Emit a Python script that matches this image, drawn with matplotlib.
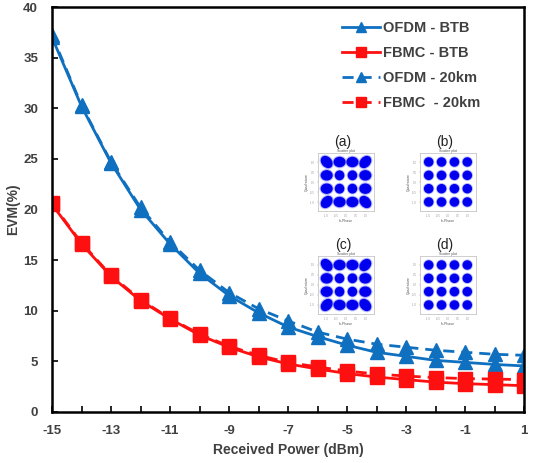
import matplotlib
matplotlib.use("Agg")
import matplotlib.pyplot as plt
from matplotlib.patches import Ellipse
import numpy as np

power = [-15, -14, -13, -12, -11, -10, -9, -8, -7, -6, -5, -4, -3, -2, -1, 0, 1]
ofdm_btb = [37.0, 30.2, 24.6, 20.0, 16.6, 13.7, 11.5, 9.8, 8.4, 7.45, 6.6, 5.9, 5.5, 5.1, 4.9, 4.7, 4.55]
fbmc_btb = [20.5, 16.6, 13.4, 11.0, 9.2, 7.6, 6.4, 5.45, 4.75, 4.25, 3.8, 3.45, 3.2, 2.95, 2.8, 2.7, 2.6]
ofdm_20km = [37.2, 30.3, 24.7, 20.2, 16.8, 14.0, 11.8, 10.2, 9.0, 7.9, 7.2, 6.7, 6.4, 6.1, 5.9, 5.7, 5.6]
fbmc_20km = [20.6, 16.7, 13.5, 11.1, 9.25, 7.7, 6.5, 5.6, 4.9, 4.45, 4.05, 3.75, 3.55, 3.4, 3.3, 3.25, 3.2]

x_ticks = [-15, -13, -11, -9, -7, -5, -3, -1, 1]
y_ticks = [0, 5, 10, 15, 20, 25, 30, 35, 40]
qam_levels = [-1.0, -1/3, 1/3, 1.0]
inset_labels = ["(a)", "(b)", "(c)", "(d)"]

blue = "#1070C0"
red = "#FF1010"
txt = "#404040"

plt.rcParams['font.family'] = ['Liberation Sans', 'DejaVu Sans']
plt.rcParams['axes.unicode_minus'] = False

fig = plt.figure(figsize=(5.36, 4.63), dpi=100)
ax = fig.add_axes([52/536, 1 - 412/463, (524-52)/536, (412-7)/463])

ax.plot(power, ofdm_btb, color=blue, lw=2, marker='^', ms=10, label='OFDM - BTB')
ax.plot(power, fbmc_btb, color=red, lw=2, marker='s', ms=9.5, label='FBMC - BTB')
ax.plot(power, ofdm_20km, color=blue, lw=2, ls=(0, (4, 2.5)), marker='^', ms=10, label='OFDM - 20km')
ax.plot(power, fbmc_20km, color=red, lw=2, ls=(0, (4, 2.5)), marker='s', ms=9.5, label='FBMC  - 20km')

ax.set_xlim(-15, 1)
ax.set_ylim(0, 40)
ax.set_xticks(x_ticks)
ax.set_xticks(range(-15, 2), minor=True)
ax.set_yticks(y_ticks)
ax.tick_params(axis='both', which='both', direction='in', length=4, width=1.2, colors='black',
               labelcolor=txt, labelsize=9.5)
ax.tick_params(axis='x', which='both', pad=9)
ax.tick_params(axis='y', which='both', pad=10)
for lab in ax.get_xticklabels() + ax.get_yticklabels():
    lab.set_fontweight('bold')
for s in ax.spines.values():
    s.set_linewidth(1.8)
    s.set_color('black')

ax.set_xlabel('Received Power (dBm)', fontsize=10, fontweight='bold', color=txt, labelpad=5)
ax.set_ylabel('EVM(%)', fontsize=10, fontweight='bold', color=txt, labelpad=2)

leg = ax.legend(loc='upper right', bbox_to_anchor=(0.935, 0.998), frameon=False,
                prop={'weight': 'bold', 'size': 10.5}, handlelength=2.6, labelspacing=0.75,
                handletextpad=0.2, markerscale=0.75)
for t in leg.get_texts():
    t.set_color(txt)

# constellation insets
boxes = [(318, 153), (420, 153), (318, 256), (420, 256)]
bw, bh = 56, 58
for i, (bx, by) in enumerate(boxes):
    iax = fig.add_axes([bx/536, 1 - (by+bh)/463, bw/536, bh/463])
    iax.set_xlim(-1.45, 1.45)
    iax.set_ylim(-1.45, 1.45)
    noisy = i in (0, 2)
    for xi in qam_levels:
        for yi in qam_levels:
            outer = abs(xi) > 0.5 or abs(yi) > 0.5
            if noisy and outer:
                ang = 45 if xi * yi > 0 else -45
                if abs(xi) > 0.5 and abs(yi) > 0.5:
                    w, h = 0.62, 0.45
                else:
                    w, h = 0.55, 0.45
                    ang = 0
                e = Ellipse((xi, yi), w, h, angle=ang, color='#0000EE')
                halo = Ellipse((xi, yi), w + 0.12, h + 0.12, angle=ang, color='#6060FF', alpha=0.35)
            elif noisy:
                e = Ellipse((xi, yi), 0.42, 0.42, color='#0000EE')
                halo = Ellipse((xi, yi), 0.52, 0.52, color='#6060FF', alpha=0.35)
            else:
                e = Ellipse((xi, yi), 0.42, 0.40, color='#0000EE')
                halo = Ellipse((xi, yi), 0.52, 0.50, color='#6060FF', alpha=0.35)
            iax.add_patch(halo)
            iax.add_patch(e)
    iax.set_xticks([-1, -0.5, 0, 0.5, 1])
    iax.set_yticks([-1, -0.5, 0, 0.5, 1])
    iax.tick_params(labelsize=2, length=1, width=0.3, colors='#999999', pad=1)
    iax.set_title('Scatter plot', fontsize=2.5, color='#555555', pad=1)
    iax.set_xlabel('In-Phase', fontsize=2.5, color='#555555', labelpad=1)
    iax.set_ylabel('Quadrature', fontsize=2.5, color='#555555', labelpad=1)
    for s in iax.spines.values():
        s.set_linewidth(0.4)
        s.set_color('#AAAAAA')
    fig.text((bx + bw/2 - 3)/536, 1 - (by - 11)/463, inset_labels[i], fontsize=10,
             ha='center', va='center', color='#222222')

fig.savefig('out.png', dpi=100)
